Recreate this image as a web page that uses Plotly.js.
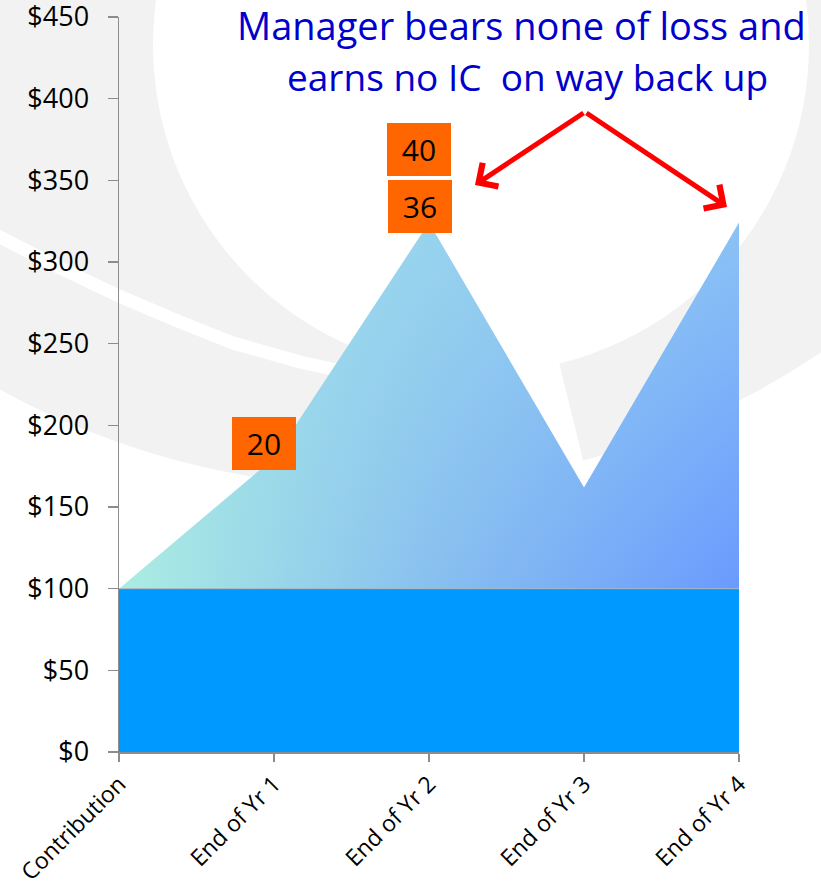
<!DOCTYPE html>
<html>
<head>
<meta charset="utf-8">
<script src="https://cdn.plot.ly/plotly-3.0.1.min.js"></script>
<style>
  html, body { margin: 0; padding: 0; background: #ffffff; }
  #chart { width: 821px; height: 882px; }
</style>
</head>
<body>
<div id="chart"></div>
<script>
// ---- data ----
const categories = ['Contribution', 'End of Yr 1', 'End of Yr 2', 'End of Yr 3', 'End of Yr 4'];
const capitalValues = [100, 100, 100, 100, 100];
const fundValues = [100, 180, 324, 162, 324];
const yTickValues = [0, 50, 100, 150, 200, 250, 300, 350, 400, 450];
const icLabels = ['20', '36', '40'];
const titleLines = ['Manager bears none of loss and', 'earns no IC\u00a0 on way back up'];

// ---- helpers: pixel -> paper (plot area 119..739 x, 17..752 y) ----
const PL = 119, PR = 739, PT = 17, PB = 752;
const px = v => (v - PL) / (PR - PL);
const py = v => (PB - v) / (PB - PT);
const pathFrom = (pts, close) =>
  pts.map((p, i) => (i ? 'L ' : 'M ') + px(p[0]) + ',' + py(p[1])).join(' ') + (close ? ' Z' : '');

const FONT = 'Open Sans, Noto Sans, sans-serif';

const traces = [
  {
    x: categories, y: capitalValues, type: 'scatter', mode: 'lines',
    line: { color: '#A9B4BE', width: 1 },
    fill: 'tozeroy', fillcolor: '#0099FF',
    hoverinfo: 'skip', showlegend: false
  },
  {
    x: categories, y: fundValues, type: 'scatter', mode: 'lines',
    line: { color: 'rgba(0,0,0,0)', width: 0 },
    fill: 'tonexty',
    fillgradient: {
      type: 'horizontal',
      colorscale: [
        [0, '#ABEDE2'],
        [0.5, '#88C0EF'],
        [1, '#6A9AFF']
      ]
    },
    hoverinfo: 'skip', showlegend: false
  },
  // same outline again, used only to lighten the upper part (vertical tint)
  {
    x: categories, y: capitalValues, type: 'scatter', mode: 'lines',
    line: { color: 'rgba(0,0,0,0)', width: 0 },
    hoverinfo: 'skip', showlegend: false
  },
  {
    x: categories, y: fundValues, type: 'scatter', mode: 'lines',
    line: { color: 'rgba(0,0,0,0)', width: 0 },
    fill: 'tonexty',
    fillgradient: {
      type: 'vertical',
      colorscale: [
        [0, 'rgba(165,228,236,0)'],
        [1, 'rgba(165,228,236,0.55)']
      ]
    },
    hoverinfo: 'skip', showlegend: false
  }
];

function icBox(text, catIdx, xs, ys) {
  return {
    xref: 'x', yref: 'y', x: categories[catIdx], y: fundValues[catIdx],
    xshift: xs, yshift: ys, text: text, showarrow: false,
    bgcolor: '#FF6600', width: 62, height: 51, borderpad: 1, borderwidth: 0,
    valign: 'middle', align: 'center',
    font: { family: FONT, size: 30, color: '#000000' }
  };
}

const annotations = [
  {
    xref: 'paper', yref: 'paper', x: px(521), y: py(25), xanchor: 'center', yanchor: 'middle',
    text: titleLines[0], showarrow: false,
    font: { family: FONT, size: 38, color: '#0000CC' }
  },
  {
    xref: 'paper', yref: 'paper', x: px(527), y: py(77), xanchor: 'center', yanchor: 'middle',
    text: titleLines[1], showarrow: false,
    font: { family: FONT, size: 37, color: '#0000CC' }
  },
  icBox(icLabels[0], 1, -10, 14.5),
  icBox(icLabels[1], 2, -9.5, 16.3),
  icBox(icLabels[2], 2, -10.5, 73.3),
  {
    xref: 'paper', yref: 'paper', x: px(475), y: py(185), ax: 110, ay: -73,
    axref: 'pixel', ayref: 'pixel', text: '', showarrow: true,
    arrowhead: 4, arrowsize: 1.1, arrowwidth: 5, arrowcolor: '#FF0000'
  },
  {
    xref: 'paper', yref: 'paper', x: px(727), y: py(207), ax: -142, ay: -95,
    axref: 'pixel', ayref: 'pixel', text: '', showarrow: true,
    arrowhead: 4, arrowsize: 1.1, arrowwidth: 5, arrowcolor: '#FF0000'
  }
];

// background watermark ring (decoration)
const shapes = [
  {
    type: 'circle', layer: 'below', xref: 'paper', yref: 'paper',
    xsizemode: 'pixel', ysizemode: 'pixel', xanchor: px(380), yanchor: py(-303),
    x0: -790, x1: 790, y0: -790, y1: 790,
    fillcolor: '#F2F2F2', line: { width: 0 }
  },
  {
    type: 'circle', layer: 'below', xref: 'paper', yref: 'paper',
    xsizemode: 'pixel', ysizemode: 'pixel', xanchor: px(481), yanchor: py(45),
    x0: -328, x1: 328, y0: -328, y1: 328,
    fillcolor: '#FFFFFF', line: { width: 0 }
  },
  {
    type: 'path', layer: 'below', xref: 'paper', yref: 'paper',
    path: pathFrom([[-30, 222], [0, 237], [60, 268], [119, 296], [180, 322], [233, 343], [300, 362], [350, 373], [430, 388]], false),
    fillcolor: 'rgba(0,0,0,0)', line: { color: '#FFFFFF', width: 13 }
  },
  {
    type: 'path', layer: 'below', xref: 'paper', yref: 'paper',
    path: pathFrom([[481, 45], [278, 967], [671, 818]], true),
    fillcolor: '#FFFFFF', line: { width: 0 }
  }
];

const axisColor = '#8C8C8C';

const layout = {
  width: 821, height: 882,
  margin: { l: PL, r: 821 - PR, t: PT, b: 882 - PB, pad: 0 },
  paper_bgcolor: '#FFFFFF',
  plot_bgcolor: 'rgba(0,0,0,0)',
  showlegend: false,
  xaxis: {
    type: 'category', range: [0, 4],
    showline: true, linecolor: axisColor, linewidth: 1.5,
    ticks: 'outside', ticklen: 8, tickwidth: 1.5, tickcolor: axisColor,
    tickangle: -45, showgrid: false, zeroline: false,
    tickfont: { family: FONT, size: 23, color: '#000000' },
    fixedrange: true
  },
  yaxis: {
    range: [0, 450], tickvals: yTickValues,
    ticktext: yTickValues.map(v => '$' + v),
    showline: true, linecolor: axisColor, linewidth: 1.5,
    ticks: 'outside', ticklen: 10, tickwidth: 1.5, tickcolor: axisColor,
    ticklabelstandoff: 13, ticklabeloverflow: 'allow',
    showgrid: false, zeroline: false,
    tickfont: { family: FONT, size: 27, color: '#000000' },
    fixedrange: true
  },
  annotations: annotations,
  shapes: shapes
};

Plotly.newPlot('chart', traces, layout, { displayModeBar: false, staticPlot: true });
</script>
</body>
</html>
